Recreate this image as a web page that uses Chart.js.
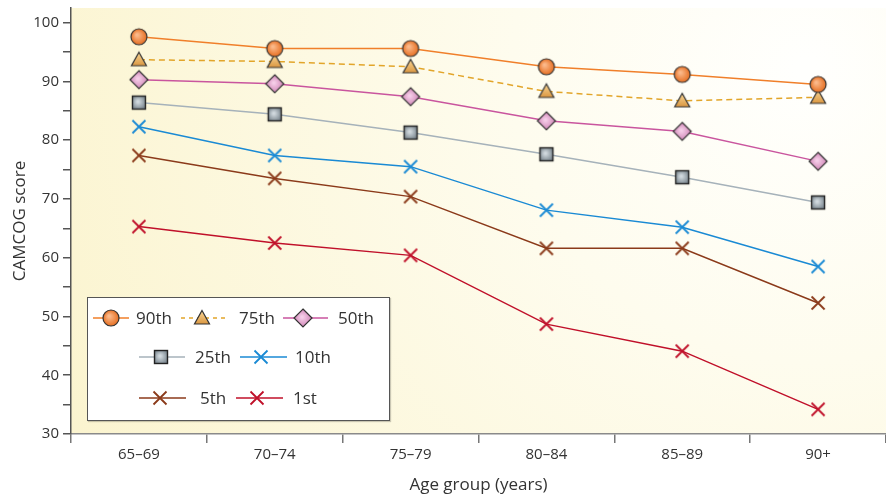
<!DOCTYPE html>
<html><head><meta charset="utf-8">
<script src="https://cdn.jsdelivr.net/npm/chart.js@4"></script>
<style>
html,body{margin:0;padding:0;background:#fff;}
#wrap{position:relative;width:886px;height:495px;}
#c{position:absolute;left:0;top:0;}
#legendBox{position:absolute;left:87px;top:297px;width:301px;height:122px;border:1.5px solid #555;background:#fff;box-shadow:1px 1px 1px rgba(0,0,0,0.2);}
.li{position:absolute;height:24px;}
.li canvas{position:absolute;left:0;top:0;}
.li span{position:absolute;top:0;line-height:24px;font-family:'Open Sans',sans-serif;font-size:17px;color:#333;white-space:nowrap;}
</style></head>
<body><div id="wrap"><canvas id="c" width="886" height="495"></canvas><div id="legendBox"></div></div>
<script>
// ---- data ----
const categories = ['65–69','70–74','75–79','80–84','85–89','90+'];
const seriesNames = ['90th','75th','50th','25th','10th','5th','1st'];
const p90 = [97.6, 95.6, 95.6, 92.5, 91.2, 89.5];
const p75 = [93.7, 93.4, 92.5, 88.3, 86.7, 87.3];
const p50 = [90.3, 89.6, 87.4, 83.3, 81.5, 76.4];
const p25 = [86.4, 84.4, 81.3, 77.6, 73.7, 69.4];
const p10 = [82.3, 77.4, 75.5, 68.1, 65.2, 58.5];
const p5  = [77.4, 73.5, 70.4, 61.6, 61.6, 52.3];
const p1  = [65.3, 62.5, 60.4, 48.7, 44.1, 34.2];
const yTicks = [30, 40, 50, 60, 70, 80, 90, 100];

// ---- styles ----
const styles = [
  {line:'#f07f2a', marker:'circle', c1:'#fbb98a', c2:'#e66f22', dash:[]},
  {line:'#e2a52a', marker:'triangle', c1:'#f8d595', c2:'#d8923a', dash:[6,4]},
  {line:'#c9559e', marker:'diamond', c1:'#f5cde8', c2:'#cf84b5', dash:[]},
  {line:'#a6b2ba', marker:'square', c1:'#d0d8dd', c2:'#66737c', dash:[]},
  {line:'#1a8ad4', marker:'cross', c1:'#1a8ad4', c2:'#1a8ad4', dash:[]},
  {line:'#8b3a1a', marker:'cross', c1:'#8b3a1a', c2:'#8b3a1a', dash:[]},
  {line:'#c0102a', marker:'cross', c1:'#c0102a', c2:'#c0102a', dash:[]}
];
const seriesData = [p90,p75,p50,p25,p10,p5,p1];

function drawMarker(ctx, s, cx, cy) {
  ctx.save();
  ctx.setLineDash([]);
  ctx.strokeStyle = '#333';
  ctx.lineWidth = 1.2;
  if (s.marker === 'circle') {
    const r = 8;
    const g = ctx.createRadialGradient(cx-2, cy-2, 1, cx, cy, r);
    g.addColorStop(0, s.c1); g.addColorStop(1, s.c2);
    ctx.beginPath(); ctx.arc(cx, cy, r, 0, Math.PI*2);
    ctx.fillStyle = g; ctx.fill(); ctx.stroke();
  } else if (s.marker === 'triangle') {
    const g = ctx.createLinearGradient(cx, cy-7, cx, cy+7);
    g.addColorStop(0, s.c1); g.addColorStop(1, s.c2);
    ctx.beginPath(); ctx.moveTo(cx, cy-7.5); ctx.lineTo(cx+7.5, cy+6); ctx.lineTo(cx-7.5, cy+6); ctx.closePath();
    ctx.fillStyle = g; ctx.fill(); ctx.stroke();
  } else if (s.marker === 'diamond') {
    const h = 9;
    const g = ctx.createRadialGradient(cx-1, cy-1, 1, cx, cy, h);
    g.addColorStop(0, s.c1); g.addColorStop(1, s.c2);
    ctx.beginPath(); ctx.moveTo(cx, cy-h); ctx.lineTo(cx+h, cy); ctx.lineTo(cx, cy+h); ctx.lineTo(cx-h, cy); ctx.closePath();
    ctx.fillStyle = g; ctx.fill(); ctx.stroke();
  } else if (s.marker === 'square') {
    const h = 6.5;
    const g = ctx.createRadialGradient(cx-1, cy-1, 1, cx, cy, h*1.4);
    g.addColorStop(0, s.c1); g.addColorStop(1, s.c2);
    ctx.fillStyle = g; ctx.fillRect(cx-h, cy-h, 2*h, 2*h);
    ctx.strokeStyle = '#222'; ctx.lineWidth = 1.4; ctx.strokeRect(cx-h, cy-h, 2*h, 2*h);
  } else {
    const h = 6.5;
    ctx.strokeStyle = s.c1; ctx.lineWidth = 1.8;
    ctx.beginPath(); ctx.moveTo(cx-h, cy-h); ctx.lineTo(cx+h, cy+h);
    ctx.moveTo(cx+h, cy-h); ctx.lineTo(cx-h, cy+h); ctx.stroke();
  }
  ctx.restore();
}
function markerCanvas(s) {
  const cv = document.createElement('canvas');
  cv.width = 22; cv.height = 22;
  drawMarker(cv.getContext('2d'), s, 11, 11);
  return cv;
}

// ---- background plugin ----
const bgPlugin = {
  id: 'bg',
  beforeDraw(chart) {
    const {ctx, chartArea: a} = chart;
    ctx.save();
    const g = ctx.createRadialGradient(a.right - 80, a.top + 60, 10, a.right - 80, a.top + 60, 820);
    g.addColorStop(0, '#fffffd');
    g.addColorStop(0.35, '#fefcee');
    g.addColorStop(1, '#fbf4cf');
    ctx.fillStyle = g;
    ctx.fillRect(a.left, a.top, a.right - a.left, a.bottom - a.top);
    ctx.restore();
  }
};

const datasets = seriesNames.map((n, i) => ({
  label: n,
  data: seriesData[i],
  borderColor: styles[i].line,
  borderWidth: 1.5,
  borderDash: styles[i].dash,
  pointStyle: markerCanvas(styles[i]),
  pointRadius: 8,
  pointHoverRadius: 8,
  fill: false,
  tension: 0
}));

new Chart(document.getElementById('c'), {
  type: 'line',
  data: {labels: categories, datasets},
  plugins: [bgPlugin],
  options: {
    responsive: false,
    animation: false,
    layout: {autoPadding: false, padding: {top: 8, right: 0, left: 0, bottom: 0}},
    plugins: {legend: {display: false}, tooltip: {enabled: false}},
    scales: {
      x: {
        offset: true,
        grid: {offset: true, drawOnChartArea: false, drawTicks: true, tickLength: 9, color: '#777', lineWidth: 1.5},
        border: {display: true, color: '#8a8a8a', width: 1.5},
        ticks: {color: '#333', font: {family: 'Open Sans', size: 15}, padding: 3},
        title: {display: true, text: 'Age group (years)', color: '#333', font: {family: 'Open Sans', size: 17}, padding: {top: 4, bottom: 0}},
        afterFit(scale) { scale.height = 61; scale.paddingLeft = 0; scale.paddingRight = 0; }
      },
      y: {
        min: 30, max: 102.5,
        grid: {drawOnChartArea: false, drawTicks: true, tickLength: 8, color: '#555', lineWidth: 1.5},
        border: {display: true, color: '#555', width: 1.5},
        afterBuildTicks(scale) {
          const t = [];
          for (let v = 30; v <= 100; v += 5) t.push({value: v});
          scale.ticks = t;
        },
        ticks: {
          color: '#333', font: {family: 'Open Sans', size: 15}, padding: 4,
          callback: (v) => yTicks.includes(v) ? String(v) : ''
        },
        title: {display: true, text: 'CAMCOG score', color: '#333', font: {family: 'Open Sans', size: 17}, padding: {top: 10, bottom: 0}},
        afterFit(scale) { scale.width = 71; scale.paddingTop = 0; scale.paddingBottom = 0; }
      }
    }
  }
});

// ---- HTML legend ----
const legendLayout = [
  {x: 93,  w: 36, m: 18, t: 43, y: 318},
  {x: 181, w: 46, m: 21, t: 58, y: 318},
  {x: 283, w: 45, m: 20, t: 55, y: 318},
  {x: 139, w: 46, m: 22, t: 56, y: 357},
  {x: 240, w: 47, m: 21, t: 55, y: 357},
  {x: 139, w: 47, m: 21, t: 61, y: 398},
  {x: 236, w: 47, m: 21, t: 57, y: 398}
];
const wrap = document.getElementById('wrap');
seriesNames.forEach((n, i) => {
  const L = legendLayout[i];
  const d = document.createElement('div');
  d.className = 'li';
  d.style.left = L.x + 'px';
  d.style.top = (L.y - 12) + 'px';
  const cv = document.createElement('canvas');
  cv.width = L.w + 2; cv.height = 24;
  const ctx = cv.getContext('2d');
  ctx.strokeStyle = styles[i].line; ctx.lineWidth = 1.5;
  ctx.setLineDash(styles[i].dash.length ? [4, 4] : []);
  ctx.beginPath(); ctx.moveTo(0, 12); ctx.lineTo(L.w, 12); ctx.stroke();
  drawMarker(ctx, styles[i], L.m, 12);
  d.appendChild(cv);
  const sp = document.createElement('span');
  sp.textContent = n;
  sp.style.left = L.t + 'px';
  d.appendChild(sp);
  wrap.appendChild(d);
});
</script>
</body></html>
